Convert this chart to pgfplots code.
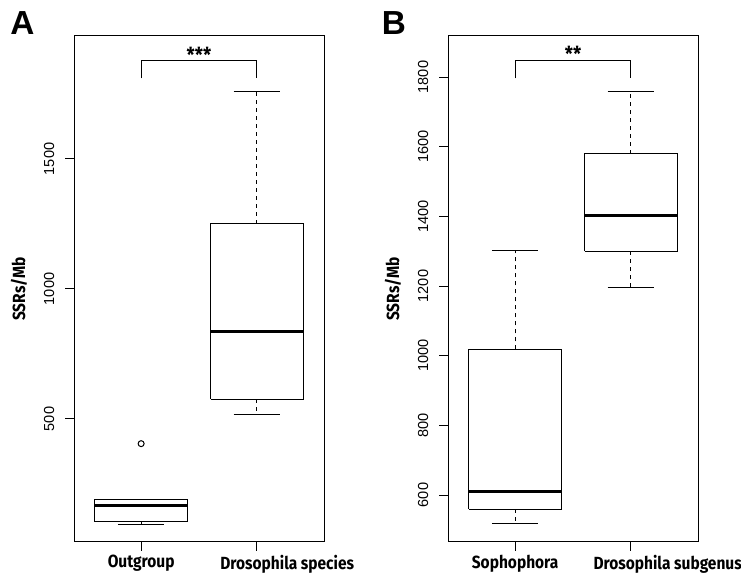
\documentclass[border=0pt]{standalone}
\usepackage{fontspec}
\setmainfont{Liberation Sans}
\newfontfamily\labfont{Fira Sans}[FakeStretch=0.88]
\usepackage{pgfplots}
\pgfplotsset{compat=1.18}

% 1 px of the reference = 0.75pt
\pgfplotsset{
  rbox/.style={
    scale only axis, width=187.5pt, height=379.3pt,
    xmin=0.42, xmax=2.58, xtick={1,2},
    axis line style={line width=0.75pt},
    tick align=outside, tick pos=left,
    major tick length=6.75pt,
    every tick/.style={black, line width=0.75pt},
    tick label style={font=\fontsize{10.9}{12}\selectfont},
    yticklabel style={rotate=90, anchor=south, inner sep=0pt, outer sep=8pt},
    xticklabel style={font=\labfont\bfseries\fontsize{13.2}{15}\selectfont},
    /pgf/number format/assume math mode=true,
    /pgf/number format/1000 sep={},
    scaled y ticks=false,
    ylabel={SSRs/Mb},
    every axis y label/.style={at={(axis description cs:-0.22,0.5)}, rotate=90, anchor=center,
      font=\labfont\bfseries\fontsize{13.2}{15}\selectfont},
  },
  rline/.style={black, line width=0.75pt, no marks, sharp plot},
  rmed/.style={black, line width=2.2pt, no marks},
  rdash/.style={black, line width=0.75pt, no marks, dash pattern=on 3pt off 3pt},
}

\begin{document}
\begin{tikzpicture}
\path[use as bounding box] (0,0) rectangle (555.75pt,434.25pt);

% Panel A
\begin{axis}[rbox, at={(55.5pt,28pt)}, anchor=south west,
  ymin=28.1, ymax=1973, ytick={500,1000,1500},
  xticklabels={Outgroup,{\makebox[0pt][l]{\hspace{-27.4pt}Drosophila species}}}]
% Outgroup: whiskers 96/191, box 105-191, median 168, outlier 405
\addplot[rdash] coordinates {(1,105) (1,96)};
\addplot[rline] coordinates {(0.8,96) (1.2,96)};
\addplot[rline] coordinates {(0.8,191) (1.2,191)};
\addplot[rline] coordinates {(0.6,105) (1.4,105) (1.4,191) (0.6,191) (0.6,105)};
\addplot[rmed] coordinates {(0.6,168) (1.4,168)};
\addplot[only marks, mark=o, mark size=2.25pt, mark options={black, line width=0.75pt}] coordinates {(1,405)};
% Drosophila species: whiskers 518/1758, box 576-1250, median 837
\addplot[rdash] coordinates {(2,576) (2,518)};
\addplot[rdash] coordinates {(2,1250) (2,1758)};
\addplot[rline] coordinates {(1.8,518) (2.2,518)};
\addplot[rline] coordinates {(1.8,1758) (2.2,1758)};
\addplot[rline] coordinates {(1.6,576) (2.4,576) (2.4,1250) (1.6,1250) (1.6,576)};
\addplot[rmed] coordinates {(1.6,837) (2.4,837)};
% significance bracket
\addplot[rline] coordinates {(1,1810) (1,1878) (2,1878) (2,1810)};
\node[font=\labfont\bfseries\fontsize{15.5}{17}\selectfont] at (axis cs:1.5,1902) {***};
\end{axis}

% Panel B
\begin{axis}[rbox, at={(336pt,28pt)}, anchor=south west,
  ymin=466, ymax=1918, ytick={600,800,1000,1200,1400,1600,1800},
  xticklabels={Sophophora,{\makebox[0pt][l]{\hspace{-28pt}Drosophila subgenus}}}]
% Sophophora: whiskers 517/1303, box 559-1018, median 611
\addplot[rdash] coordinates {(1,559) (1,517)};
\addplot[rdash] coordinates {(1,1018) (1,1303)};
\addplot[rline] coordinates {(0.8,517) (1.2,517)};
\addplot[rline] coordinates {(0.8,1303) (1.2,1303)};
\addplot[rline] coordinates {(0.6,559) (1.4,559) (1.4,1018) (0.6,1018) (0.6,559)};
\addplot[rmed] coordinates {(0.6,611) (1.4,611)};
% Drosophila subgenus: whiskers 1196/1758, box 1300-1580, median 1403
\addplot[rdash] coordinates {(2,1300) (2,1196)};
\addplot[rdash] coordinates {(2,1580) (2,1758)};
\addplot[rline] coordinates {(1.8,1196) (2.2,1196)};
\addplot[rline] coordinates {(1.8,1758) (2.2,1758)};
\addplot[rline] coordinates {(1.6,1300) (2.4,1300) (2.4,1580) (1.6,1580) (1.6,1300)};
\addplot[rmed] coordinates {(1.6,1403) (2.4,1403)};
% significance bracket
\addplot[rline] coordinates {(1,1796) (1,1847) (2,1847) (2,1796)};
\node[font=\labfont\bfseries\fontsize{15.5}{17}\selectfont] at (axis cs:1.5,1866) {**};
\end{axis}

\node[font=\bfseries\fontsize{25}{28}\selectfont] at (16.8pt,416.8pt) {A};
\node[font=\bfseries\fontsize{25}{28}\selectfont] at (295.5pt,416.8pt) {B};
\end{tikzpicture}
\end{document}
